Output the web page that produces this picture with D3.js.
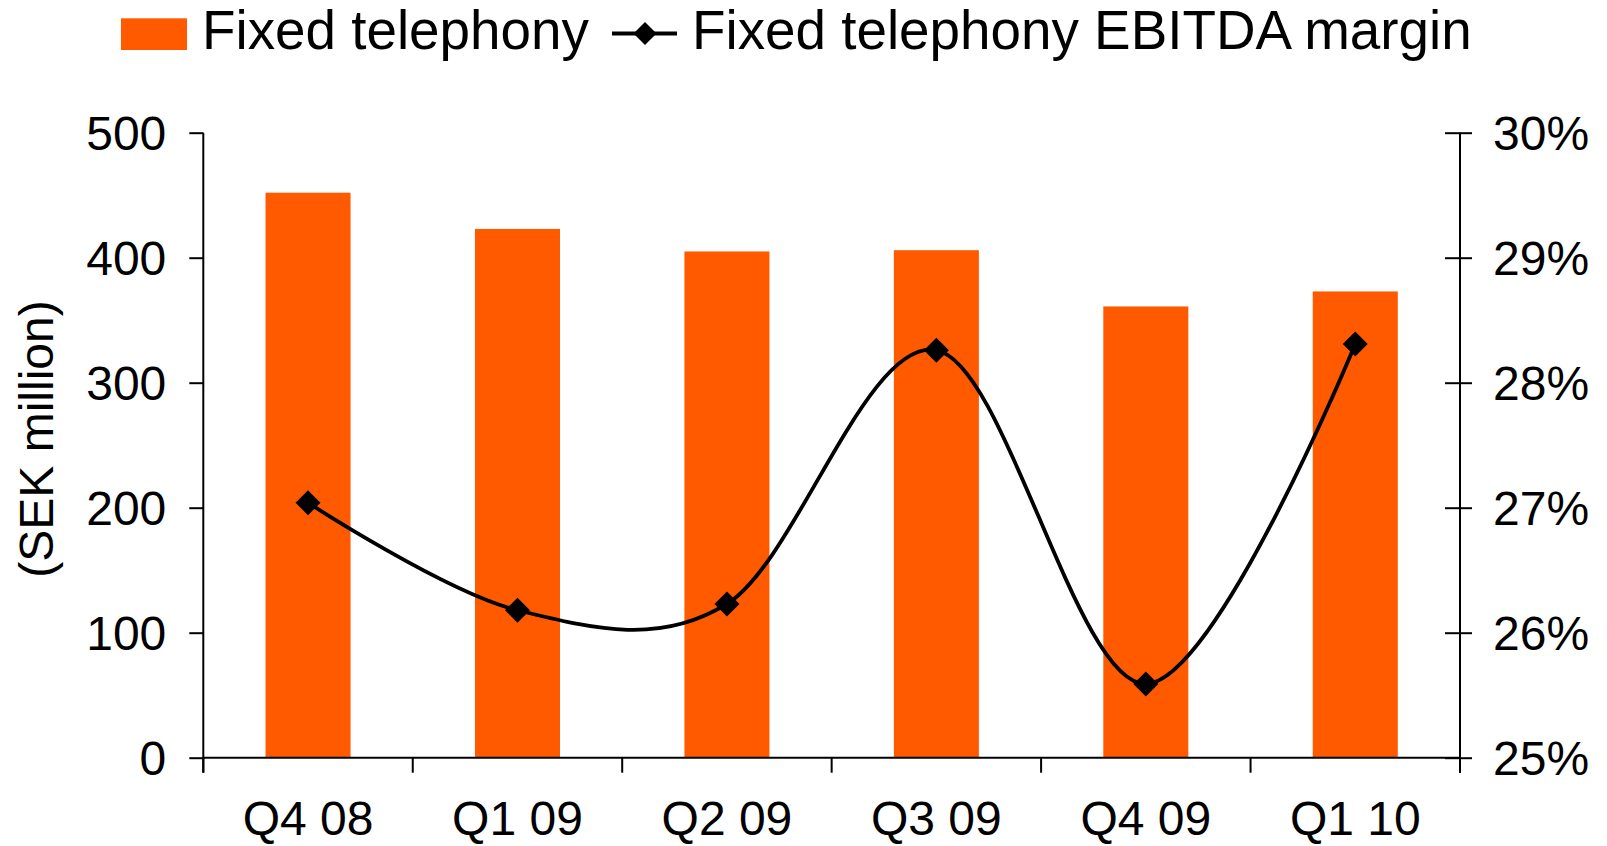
<!DOCTYPE html>
<html>
<head>
<meta charset="utf-8">
<script src="https://cdn.jsdelivr.net/npm/d3@7"></script>
<style>
  html, body { margin: 0; padding: 0; background: #fff; }
  svg { display: block; }
  text { font-family: "Liberation Sans", Arial, Helvetica, sans-serif; fill: #000; }
</style>
</head>
<body>
<svg id="chart" width="1607" height="846"></svg>
<script>
// Quarterly revenue for fixed telephony (SEK million) and its EBITDA margin (%)
const quarters = ["Q4 08", "Q1 09", "Q2 09", "Q3 09", "Q4 09", "Q1 10"];
const revenue = [452, 423, 405, 406, 361, 373];
const ebitdaMargin = [27.04, 26.18, 26.23, 28.26, 25.59, 28.31];
const leftTicks = [0, 100, 200, 300, 400, 500];
const rightTicks = [25, 26, 27, 28, 29, 30];
const seriesNames = ["Fixed telephony", "Fixed telephony EBITDA margin"];

const ORANGE = "#ff5a00";
const svg = d3.select("#chart");

const plot = { left: 203.3, right: 1460, top: 132.7, bottom: 757.7 };

const x = d3.scaleBand()
  .domain(quarters)
  .range([plot.left, plot.right])
  .paddingInner(0.594)
  .paddingOuter(0.297);

const y = d3.scaleLinear().domain([0, 500]).range([plot.bottom, plot.top]);
const y2 = d3.scaleLinear().domain([25, 30]).range([plot.bottom, plot.top]);

// Bars
svg.append("g")
  .selectAll("rect")
  .data(quarters)
  .join("rect")
  .attr("x", d => x(d))
  .attr("width", x.bandwidth())
  .attr("y", (d, i) => y(revenue[i]))
  .attr("height", (d, i) => y(0) - y(revenue[i]))
  .attr("fill", ORANGE);

// Left axis
const gLeft = svg.append("g")
  .attr("transform", `translate(${plot.left},0)`)
  .call(d3.axisLeft(y).tickValues(leftTicks).tickSize(14).tickPadding(23).tickSizeOuter(0));
gLeft.select(".domain").remove();
gLeft.selectAll(".tick line").attr("stroke", "#000").attr("stroke-width", 2);
gLeft.selectAll(".tick text").attr("font-size", 48).attr("dy", "0.35em");

// Right axis with ticks crossing the axis line
const gRight = svg.append("g")
  .attr("transform", `translate(${plot.right},0)`)
  .call(d3.axisRight(y2).tickValues(rightTicks).tickSize(12).tickPadding(21)
    .tickFormat(d => d + "%"));
gRight.select(".domain").remove();
gRight.selectAll(".tick line").attr("x1", -15).attr("x2", 12)
  .attr("stroke", "#000").attr("stroke-width", 2);
gRight.selectAll(".tick text").attr("font-size", 48).attr("dy", "0.35em");

// Category labels
const gBottom = svg.append("g")
  .attr("transform", `translate(0,${plot.bottom})`)
  .call(d3.axisBottom(x).tickSize(0).tickPadding(43));
gBottom.select(".domain").remove();
gBottom.selectAll(".tick text").attr("font-size", 48);

// Axis lines and category boundary ticks
const axisG = svg.append("g").attr("stroke", "#000").attr("stroke-width", 2).attr("fill", "none");
const bounds = quarters.map(q => x(q) + x.bandwidth() / 2 - x.step() / 2)
  .concat([x(quarters[quarters.length - 1]) + x.bandwidth() / 2 + x.step() / 2]);
axisG.append("line")
  .attr("x1", plot.left).attr("x2", plot.left)
  .attr("y1", plot.top).attr("y2", plot.bottom + 15);
axisG.append("line")
  .attr("x1", plot.right).attr("x2", plot.right)
  .attr("y1", plot.top).attr("y2", plot.bottom + 15);
axisG.append("line")
  .attr("x1", plot.left).attr("x2", plot.right)
  .attr("y1", plot.bottom).attr("y2", plot.bottom);
axisG.selectAll("line.b")
  .data(bounds)
  .join("line")
  .attr("class", "b")
  .attr("x1", d => d).attr("x2", d => d)
  .attr("y1", plot.bottom).attr("y2", plot.bottom + 15);

// Margin line (smoothed) and diamond markers
const cx = q => x(q) + x.bandwidth() / 2;
const linePts = quarters.map((q, i) => [cx(q), y2(ebitdaMargin[i])]);
svg.append("path")
  .attr("d", d3.line().curve(d3.curveCardinal.tension(0))(linePts))
  .attr("fill", "none")
  .attr("stroke", "#000")
  .attr("stroke-width", 3.8)
  .attr("stroke-linejoin", "round");

const diamond = (px, py, r) => `M${px},${py - r}L${px + r},${py}L${px},${py + r}L${px - r},${py}Z`;
svg.append("g")
  .selectAll("path")
  .data(linePts)
  .join("path")
  .attr("d", d => diamond(d[0], d[1], 12.5))
  .attr("fill", "#000");

// Y axis title
svg.append("text")
  .attr("transform", "translate(53,439) rotate(-90)")
  .attr("text-anchor", "middle")
  .attr("font-size", 48)
  .text("(SEK million)");

// Legend
const legend = svg.append("g");
legend.append("rect")
  .attr("x", 121).attr("y", 18.3).attr("width", 66).attr("height", 31.7)
  .attr("fill", ORANGE);
legend.append("text")
  .attr("x", 202).attr("y", 49.3)
  .attr("font-size", 54.8)
  .text(seriesNames[0]);
legend.append("line")
  .attr("x1", 612).attr("x2", 677).attr("y1", 33.5).attr("y2", 33.5)
  .attr("stroke", "#000").attr("stroke-width", 3.8);
legend.append("path")
  .attr("d", diamond(645, 33.5, 11.5))
  .attr("fill", "#000");
legend.append("text")
  .attr("x", 692).attr("y", 49.3)
  .attr("font-size", 54.8)
  .text(seriesNames[1]);
</script>
</body>
</html>
